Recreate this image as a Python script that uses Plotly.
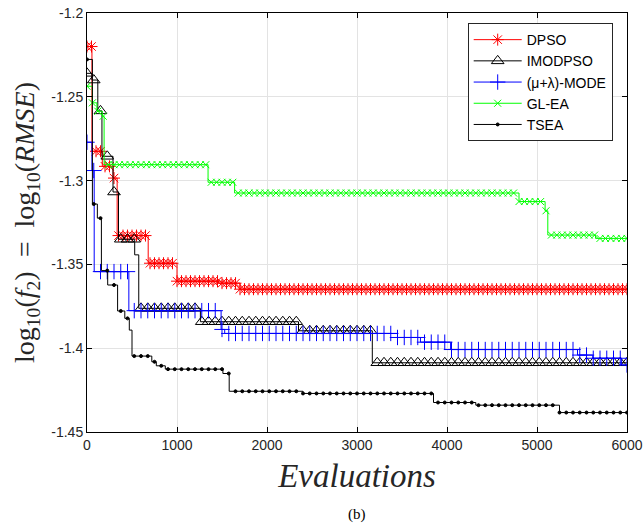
import numpy as np
import plotly.graph_objects as go

# ---- data (step start evaluation, level) ----
dpso_x = [0, 55, 170, 290, 335, 680, 1000, 1460, 1700]
dpso_y = [-1.2200, -1.2825, -1.2915, -1.2985, -1.3328, -1.3493, -1.3600, -1.3612, -1.3648]

imod_x = [0, 55, 120, 166, 289, 350, 530, 575, 1260, 2350, 3170]
imod_y = [-1.2360, -1.2400, -1.2584, -1.2855, -1.3068, -1.3350, -1.3443, -1.3762, -1.3842, -1.3896, -1.4087]

mode_x = [0, 55, 80, 465, 1490, 1530, 3450, 3705, 4040, 5450, 5620, 5940]
mode_y = [-1.2771, -1.2940, -1.3543, -1.3776, -1.3888, -1.3912, -1.3936, -1.3964, -1.4008, -1.4041, -1.4060, -1.4100]

glea_x = [0, 60, 110, 170, 190, 1345, 1640, 4800, 5090, 5120, 5650]
glea_y = [-1.2437, -1.2536, -1.2586, -1.2616, -1.2905, -1.3010, -1.3074, -1.3125, -1.3180, -1.3325, -1.3345]

tsea_x = [0, 60, 115, 160, 230, 340, 420, 470, 500, 720, 770, 870, 1510, 1580, 2400, 3850, 4320, 5250]
tsea_y = [-1.2277, -1.3140, -1.3224, -1.3537, -1.3623, -1.3778, -1.3822, -1.3892, -1.4047, -1.4081,
          -1.4105, -1.4125, -1.4151, -1.4257, -1.4270, -1.4324, -1.4340, -1.4384]

names = ["DPSO", "IMODPSO", "(\u03bc+\u03bb)-MODE", "GL-EA", "TSEA"]
colors = ["#ff0000", "#000000", "#0000ff", "#00ff00", "#000000"]
symbols = ["asterisk-open", "triangle-up-open", "cross-thin-open", "x-thin-open", "circle"]
msizes = [10, 11, 11, 7, 3]
mark_every = [50, 75, 75, 60, 75]
series = [(dpso_x, dpso_y), (imod_x, imod_y), (mode_x, mode_y), (glea_x, glea_y), (tsea_x, tsea_y)]

X_MAX = 6000
fig = go.Figure()
for (sx, sy), name, col, sym, ms, every in zip(series, names, colors, symbols, msizes, mark_every):
    lx = list(sx) + [X_MAX]
    ly = list(sy) + [sy[-1]]
    fig.add_trace(go.Scatter(x=lx, y=ly, mode="lines", line=dict(color=col, width=1, shape="hv"),
                             showlegend=False, hoverinfo="skip"))
    gx = np.arange(0, X_MAX + 1, every)
    idx = np.searchsorted(np.array(sx), gx, side="right") - 1
    gy = np.array(sy)[idx]
    fig.add_trace(go.Scatter(x=gx, y=gy, mode="markers",
                             marker=dict(symbol=sym, size=ms, color=col, line=dict(color=col, width=1)),
                             showlegend=False))
    fig.add_trace(go.Scatter(x=[None], y=[None], mode="lines+markers", name=name,
                             line=dict(color=col, width=1),
                             marker=dict(symbol=sym, size=ms, color=col, line=dict(color=col, width=1))))

axis_common = dict(showline=True, linecolor="black", linewidth=1, mirror="ticks", ticks="inside",
                   ticklen=5, tickcolor="black", showgrid=True, gridcolor="#e3e3e3", gridwidth=1,
                   zeroline=False, automargin=False,
                   tickfont=dict(family="Liberation Sans, Arial", size=14, color="#262626"))

fig.update_xaxes(range=[0, 6000], tickvals=[0, 1000, 2000, 3000, 4000, 5000, 6000],
                 ticktext=["0", "1000", "2000", "3000", "4000", "5000", "6000"],
                 title=dict(text="<i>Evaluations</i>", font=dict(family="Liberation Serif", size=33, color="#262626"),
                            standoff=12),
                 **axis_common)
fig.update_yaxes(range=[-1.45, -1.2], tickvals=[-1.45, -1.4, -1.35, -1.3, -1.25, -1.2],
                 ticktext=["-1.45", "-1.4", "-1.35", "-1.3", "-1.25", "-1.2"],
                 title=dict(text="log<sub>10</sub>(<i>f</i><sub>2</sub>)  =  log<sub>10</sub>(<i>RMSE</i>)",
                            font=dict(family="Liberation Serif", size=28, color="#262626"), standoff=8),
                 **axis_common)

fig.update_layout(
    width=644, height=527,
    margin=dict(l=87, r=17, t=13, b=95),
    plot_bgcolor="white", paper_bgcolor="white",
    legend=dict(x=0.705, y=0.976, xanchor="left", yanchor="top", bgcolor="white",
                bordercolor="#262626", borderwidth=1,
                font=dict(family="Liberation Sans, Arial", size=14, color="black"),
                tracegroupgap=0, itemwidth=48),
    annotations=[dict(text="(b)", x=0.5, y=-0.172, xref="paper", yref="paper", showarrow=False,
                      xanchor="center", yanchor="top", font=dict(family="Liberation Serif", size=15, color="black"))],
)

fig.write_html("out.html")
